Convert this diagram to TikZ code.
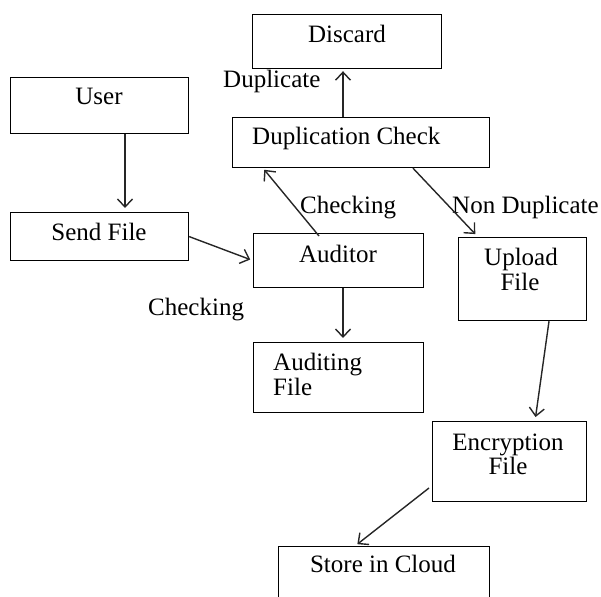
\documentclass[tikz,border=0pt]{standalone}
\usepackage{fontspec}
\setmainfont{Liberation Serif}
\usetikzlibrary{arrows.meta}
\tikzset{
  box/.style={draw=black, line width=1.2pt, rectangle, inner sep=0pt, anchor=north west},
  txt/.style={inner sep=0pt, font=\fontsize{25}{29}\selectfont, anchor=base},
  ltxt/.style={txt, anchor=base west},
  conn/.style={draw=black!85, line width=1.4pt, -{Straight Barb[length=8pt,width=15pt,line width=1.4pt]}}
}
\begin{document}
\begin{tikzpicture}[x=1pt,y=-1pt]
\useasboundingbox (0,0) rectangle (601,596);
\clip (0,0) rectangle (601,596);
% boxes
\node[box, minimum width=189pt, minimum height=54pt] (disc) at (252,14) {};
\node[box, minimum width=257pt, minimum height=50pt] (dup) at (232,117) {};
\node[box, minimum width=178pt, minimum height=56pt] (user) at (10,77) {};
\node[box, minimum width=178pt, minimum height=48pt] (send) at (10,212) {};
\node[box, minimum width=170pt, minimum height=54pt] (aud) at (253,233) {};
\node[box, minimum width=128pt, minimum height=83pt] (upl) at (458,237) {};
\node[box, minimum width=170pt, minimum height=70pt] (audf) at (253,342) {};
\node[box, minimum width=154pt, minimum height=80pt] (enc) at (432,421) {};
\node[box, minimum width=211pt, minimum height=60pt] (store) at (278,546) {};
% texts
\node[txt] (discT) at (347,43) {Discard};
\node[ltxt] (dupT) at (252,145) {Duplication Check};
\node[txt] (userT) at (99,105) {User};
\node[txt] (sendT) at (99,240) {Send File};
\node[txt] (audT) at (338,262) {Auditor};
\node[txt] (uplT1) at (521,265) {Upload};
\node[txt] (uplT2) at (520,290) {File};
\node[ltxt] (audfT1) at (273,370) {Auditing};
\node[ltxt] (audfT2) at (273,395) {File};
\node[txt] (encT1) at (508,450) {Encryption};
\node[txt] (encT2) at (508,474) {File};
\node[txt] (storeT) at (383,572) {Store in Cloud};
% edge labels
\node[ltxt] (lDup) at (223,88) {Duplicate};
\node[ltxt] (lChk1) at (300,213) {Checking};
\node[ltxt] (lNon) at (452,213) {Non Duplicate};
\node[ltxt] (lChk2) at (148,315) {Checking};
% connectors
\draw[conn, shorten >=4pt] ([xshift=115pt]user.south west) -- ([xshift=115pt]send.north west);
\draw[conn, shorten >=3pt] (send.east) -- (aud.west);
\draw[conn, shorten >=2pt] ([xshift=66pt,yshift=-3pt]aud.north west) -- ([xshift=31pt]dup.south west);
\draw[conn, shorten >=2pt] ([xshift=111pt]dup.north west) -- ([xshift=91pt]disc.south west);
\draw[conn, shorten >=4pt] ([xshift=181pt]dup.south west) -- ([xshift=20pt]upl.north west);
\draw[conn, shorten >=4pt] ([xshift=90pt]aud.south west) -- ([xshift=90pt]audf.north west);
\draw[conn, shorten >=4pt] ([xshift=91pt]upl.south west) -- ([xshift=103pt]enc.north west);
\draw[conn, shorten >=3pt] ([xshift=-3pt,yshift=-67pt]enc.north west) -- ([xshift=77pt]store.north west);
\end{tikzpicture}
\end{document}
